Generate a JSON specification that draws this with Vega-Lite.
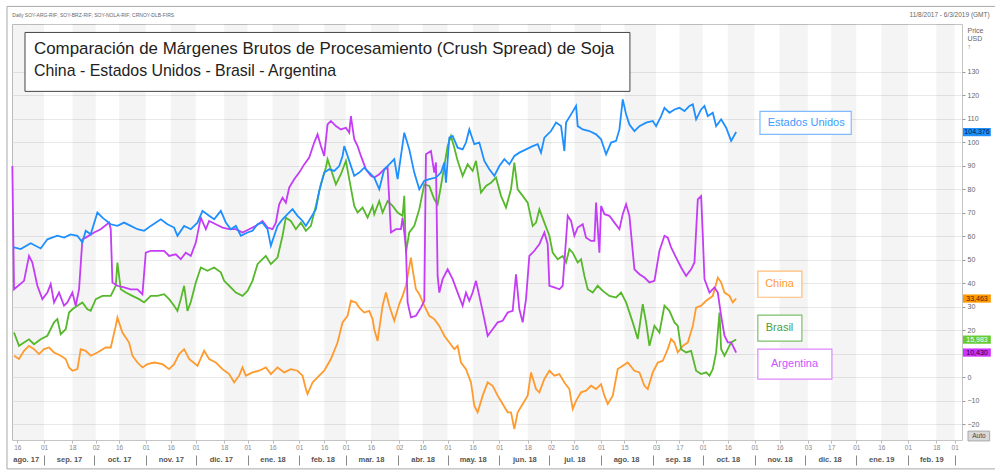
{
"$schema":"https://vega.github.io/schema/vega-lite/v6.json",
"width":950,"height":416,
"autosize":{"type":"none"},
"padding":{"left":12,"top":24,"right":33,"bottom":34},
"background":"white",
"config":{"view":{"stroke":"#c4c4c4"},"font":"Liberation Sans"},
"resolve":{"axis":{"x":"independent","y":"independent"}},
"datasets":{
"stripes":[{"a":"2017-08-12T19:00:00Z","b":"2017-09-01"},{"a":"2017-09-18","b":"2017-10-02"},{"a":"2017-10-16","b":"2017-11-01"},{"a":"2017-11-16","b":"2017-12-01"},{"a":"2017-12-18","b":"2018-01-01"},{"a":"2018-01-16","b":"2018-02-01"},{"a":"2018-02-16","b":"2018-03-01"},{"a":"2018-03-16","b":"2018-04-02"},{"a":"2018-04-16","b":"2018-05-01"},{"a":"2018-05-16","b":"2018-06-01"},{"a":"2018-06-18","b":"2018-07-02"},{"a":"2018-07-16","b":"2018-08-01"},{"a":"2018-08-15","b":"2018-09-03"},{"a":"2018-09-17","b":"2018-10-01"},{"a":"2018-10-16","b":"2018-11-01"},{"a":"2018-11-16","b":"2018-12-03"},{"a":"2018-12-17","b":"2019-01-01"},{"a":"2019-01-16","b":"2019-02-01"},{"a":"2019-02-18","b":"2019-03-01"}],
"us":[{"d":"2017-08-14","v":55.2},{"d":"2017-08-18","v":54.5},{"d":"2017-08-24","v":57.0},{"d":"2017-08-30","v":54.8},{"d":"2017-09-03","v":58.7},{"d":"2017-09-09","v":60.2},{"d":"2017-09-13","v":59.4},{"d":"2017-09-17","v":60.8},{"d":"2017-09-21","v":60.2},{"d":"2017-09-24","v":57.3},{"d":"2017-09-26","v":62.3},{"d":"2017-09-29","v":60.8},{"d":"2017-10-03","v":70.1},{"d":"2017-10-06","v":67.9},{"d":"2017-10-11","v":65.1},{"d":"2017-10-15","v":64.4},{"d":"2017-10-19","v":65.8},{"d":"2017-10-23","v":64.4},{"d":"2017-10-27","v":63.0},{"d":"2017-10-31","v":62.3},{"d":"2017-11-04","v":64.4},{"d":"2017-11-10","v":67.2},{"d":"2017-11-14","v":65.1},{"d":"2017-11-18","v":63.7},{"d":"2017-11-20","v":60.2},{"d":"2017-11-24","v":64.4},{"d":"2017-11-28","v":63.0},{"d":"2017-12-02","v":65.8},{"d":"2017-12-05","v":70.8},{"d":"2017-12-09","v":68.7},{"d":"2017-12-12","v":67.2},{"d":"2017-12-16","v":70.8},{"d":"2017-12-19","v":65.8},{"d":"2017-12-22","v":63.0},{"d":"2017-12-25","v":64.4},{"d":"2017-12-28","v":60.2},{"d":"2018-01-01","v":61.6},{"d":"2018-01-04","v":62.3},{"d":"2018-01-07","v":65.1},{"d":"2018-01-10","v":65.8},{"d":"2018-01-13","v":63.0},{"d":"2018-01-15","v":55.9},{"d":"2018-01-17","v":60.2},{"d":"2018-01-19","v":64.4},{"d":"2018-01-22","v":67.2},{"d":"2018-01-25","v":69.4},{"d":"2018-01-28","v":71.5},{"d":"2018-01-31","v":68.7},{"d":"2018-02-03","v":66.5},{"d":"2018-02-05","v":64.4},{"d":"2018-02-08","v":67.9},{"d":"2018-02-11","v":71.5},{"d":"2018-02-13","v":79.3},{"d":"2018-02-16","v":87.1},{"d":"2018-02-19","v":88.5},{"d":"2018-02-22","v":87.8},{"d":"2018-02-25","v":89.9},{"d":"2018-02-27","v":94.2},{"d":"2018-02-28","v":98.4},{"d":"2018-03-03","v":92.1},{"d":"2018-03-06","v":85.7},{"d":"2018-03-09","v":87.1},{"d":"2018-03-12","v":89.2},{"d":"2018-03-15","v":87.1},{"d":"2018-03-18","v":85.0},{"d":"2018-03-21","v":80.0},{"d":"2018-03-24","v":88.5},{"d":"2018-03-27","v":90.6},{"d":"2018-03-30","v":92.8},{"d":"2018-04-01","v":84.3},{"d":"2018-04-03","v":94.2},{"d":"2018-04-05","v":104.1},{"d":"2018-04-08","v":97.0},{"d":"2018-04-11","v":87.1},{"d":"2018-04-14","v":80.0},{"d":"2018-04-17","v":83.6},{"d":"2018-04-20","v":84.3},{"d":"2018-04-24","v":85.0},{"d":"2018-04-27","v":87.1},{"d":"2018-04-29","v":91.4},{"d":"2018-04-30","v":82.8},{"d":"2018-05-02","v":102.0},{"d":"2018-05-04","v":102.7},{"d":"2018-05-07","v":97.7},{"d":"2018-05-10","v":97.0},{"d":"2018-05-12","v":99.9},{"d":"2018-05-14","v":105.5},{"d":"2018-05-17","v":99.2},{"d":"2018-05-20","v":99.9},{"d":"2018-05-23","v":92.1},{"d":"2018-05-26","v":88.5},{"d":"2018-05-29","v":85.7},{"d":"2018-06-01","v":89.9},{"d":"2018-06-04","v":92.8},{"d":"2018-06-07","v":90.6},{"d":"2018-06-10","v":94.2},{"d":"2018-06-13","v":95.6},{"d":"2018-06-17","v":97.0},{"d":"2018-06-21","v":98.4},{"d":"2018-06-24","v":99.2},{"d":"2018-06-26","v":95.6},{"d":"2018-06-28","v":102.0},{"d":"2018-07-02","v":104.8},{"d":"2018-07-05","v":108.4},{"d":"2018-07-08","v":106.9},{"d":"2018-07-10","v":96.3},{"d":"2018-07-11","v":108.4},{"d":"2018-07-14","v":111.9},{"d":"2018-07-17","v":115.5},{"d":"2018-07-18","v":106.9},{"d":"2018-07-21","v":105.5},{"d":"2018-07-25","v":104.8},{"d":"2018-07-29","v":103.4},{"d":"2018-08-01","v":101.3},{"d":"2018-08-04","v":94.9},{"d":"2018-08-07","v":99.9},{"d":"2018-08-10","v":100.6},{"d":"2018-08-12","v":105.5},{"d":"2018-08-14","v":118.3},{"d":"2018-08-16","v":111.9},{"d":"2018-08-18","v":107.6},{"d":"2018-08-21","v":104.8},{"d":"2018-08-24","v":106.9},{"d":"2018-08-28","v":108.4},{"d":"2018-09-01","v":109.1},{"d":"2018-09-03","v":106.9},{"d":"2018-09-06","v":111.2},{"d":"2018-09-08","v":114.7},{"d":"2018-09-11","v":112.6},{"d":"2018-09-14","v":114.0},{"d":"2018-09-17","v":114.7},{"d":"2018-09-20","v":113.3},{"d":"2018-09-23","v":115.5},{"d":"2018-09-25","v":116.2},{"d":"2018-09-27","v":109.8},{"d":"2018-09-30","v":114.0},{"d":"2018-10-02","v":115.5},{"d":"2018-10-04","v":111.2},{"d":"2018-10-07","v":112.6},{"d":"2018-10-09","v":106.9},{"d":"2018-10-12","v":109.8},{"d":"2018-10-15","v":106.2},{"d":"2018-10-18","v":100.6},{"d":"2018-10-21","v":104.376}],
"ar":[{"d":"2017-08-13","v":89.9},{"d":"2017-08-14","v":37.4},{"d":"2017-08-20","v":41.0},{"d":"2017-08-23","v":51.6},{"d":"2017-08-25","v":48.8},{"d":"2017-08-28","v":38.9},{"d":"2017-08-31","v":33.2},{"d":"2017-09-03","v":36.0},{"d":"2017-09-05","v":39.6},{"d":"2017-09-07","v":31.8},{"d":"2017-09-10","v":36.0},{"d":"2017-09-13","v":30.4},{"d":"2017-09-15","v":31.8},{"d":"2017-09-18","v":36.0},{"d":"2017-09-20","v":30.4},{"d":"2017-09-22","v":37.4},{"d":"2017-09-24","v":58.7},{"d":"2017-09-26","v":59.4},{"d":"2017-10-01","v":61.6},{"d":"2017-10-05","v":63.0},{"d":"2017-10-10","v":65.8},{"d":"2017-10-11","v":63.0},{"d":"2017-10-12","v":40.3},{"d":"2017-10-15","v":38.9},{"d":"2017-10-19","v":38.2},{"d":"2017-10-23","v":37.4},{"d":"2017-10-27","v":37.4},{"d":"2017-10-30","v":35.3},{"d":"2017-11-01","v":53.0},{"d":"2017-11-04","v":53.8},{"d":"2017-11-08","v":53.8},{"d":"2017-11-12","v":53.8},{"d":"2017-11-15","v":51.6},{"d":"2017-11-19","v":52.3},{"d":"2017-11-22","v":50.2},{"d":"2017-11-25","v":53.0},{"d":"2017-11-28","v":51.6},{"d":"2017-12-01","v":57.3},{"d":"2017-12-04","v":67.9},{"d":"2017-12-07","v":63.0},{"d":"2017-12-09","v":66.5},{"d":"2017-12-13","v":65.1},{"d":"2017-12-17","v":63.7},{"d":"2017-12-21","v":63.0},{"d":"2017-12-25","v":63.0},{"d":"2017-12-29","v":61.6},{"d":"2018-01-02","v":63.0},{"d":"2018-01-06","v":64.4},{"d":"2018-01-10","v":66.5},{"d":"2018-01-13","v":63.7},{"d":"2018-01-16","v":63.0},{"d":"2018-01-18","v":65.8},{"d":"2018-01-20","v":73.6},{"d":"2018-01-22","v":76.4},{"d":"2018-01-24","v":74.3},{"d":"2018-01-26","v":80.7},{"d":"2018-01-29","v":84.3},{"d":"2018-02-01","v":87.1},{"d":"2018-02-04","v":90.6},{"d":"2018-02-07","v":93.5},{"d":"2018-02-10","v":99.9},{"d":"2018-02-12","v":103.4},{"d":"2018-02-14","v":98.4},{"d":"2018-02-16","v":94.2},{"d":"2018-02-18","v":107.6},{"d":"2018-02-20","v":109.1},{"d":"2018-02-23","v":106.9},{"d":"2018-02-26","v":105.5},{"d":"2018-03-01","v":106.2},{"d":"2018-03-03","v":104.1},{"d":"2018-03-04","v":111.2},{"d":"2018-03-06","v":101.3},{"d":"2018-03-08","v":98.4},{"d":"2018-03-10","v":94.2},{"d":"2018-03-13","v":88.5},{"d":"2018-03-16","v":85.7},{"d":"2018-03-18","v":85.0},{"d":"2018-03-21","v":86.4},{"d":"2018-03-24","v":88.5},{"d":"2018-03-26","v":89.2},{"d":"2018-03-28","v":61.6},{"d":"2018-03-31","v":63.0},{"d":"2018-04-03","v":63.0},{"d":"2018-04-04","v":67.9},{"d":"2018-04-06","v":55.2},{"d":"2018-04-07","v":31.8},{"d":"2018-04-09","v":25.4},{"d":"2018-04-12","v":26.1},{"d":"2018-04-15","v":29.6},{"d":"2018-04-17","v":32.5},{"d":"2018-04-18","v":94.9},{"d":"2018-04-21","v":96.3},{"d":"2018-04-23","v":87.1},{"d":"2018-04-24","v":91.4},{"d":"2018-04-25","v":43.1},{"d":"2018-04-26","v":36.0},{"d":"2018-04-28","v":41.7},{"d":"2018-05-01","v":45.9},{"d":"2018-05-04","v":41.7},{"d":"2018-05-07","v":36.0},{"d":"2018-05-10","v":30.4},{"d":"2018-05-12","v":36.0},{"d":"2018-05-14","v":32.5},{"d":"2018-05-16","v":36.0},{"d":"2018-05-18","v":41.0},{"d":"2018-05-20","v":34.6},{"d":"2018-05-23","v":24.7},{"d":"2018-05-25","v":17.6},{"d":"2018-05-28","v":20.4},{"d":"2018-05-31","v":23.3},{"d":"2018-06-03","v":24.0},{"d":"2018-06-06","v":27.5},{"d":"2018-06-09","v":28.2},{"d":"2018-06-11","v":43.8},{"d":"2018-06-13","v":28.9},{"d":"2018-06-15","v":23.3},{"d":"2018-06-17","v":33.2},{"d":"2018-06-19","v":51.6},{"d":"2018-06-22","v":53.8},{"d":"2018-06-25","v":56.6},{"d":"2018-06-28","v":61.6},{"d":"2018-06-30","v":56.6},{"d":"2018-07-01","v":38.9},{"d":"2018-07-04","v":38.2},{"d":"2018-07-07","v":37.4},{"d":"2018-07-09","v":38.9},{"d":"2018-07-11","v":58.7},{"d":"2018-07-12","v":68.7},{"d":"2018-07-14","v":66.5},{"d":"2018-07-16","v":60.2},{"d":"2018-07-18","v":63.7},{"d":"2018-07-21","v":65.1},{"d":"2018-07-23","v":59.4},{"d":"2018-07-26","v":58.0},{"d":"2018-07-28","v":58.0},{"d":"2018-07-29","v":74.3},{"d":"2018-07-31","v":53.0},{"d":"2018-08-01","v":72.9},{"d":"2018-08-03","v":69.4},{"d":"2018-08-06","v":68.7},{"d":"2018-08-09","v":65.8},{"d":"2018-08-12","v":63.0},{"d":"2018-08-14","v":69.4},{"d":"2018-08-16","v":73.6},{"d":"2018-08-18","v":68.7},{"d":"2018-08-21","v":45.9},{"d":"2018-08-24","v":43.8},{"d":"2018-08-27","v":42.4},{"d":"2018-08-30","v":40.3},{"d":"2018-09-02","v":41.0},{"d":"2018-09-05","v":53.8},{"d":"2018-09-08","v":60.2},{"d":"2018-09-10","v":59.4},{"d":"2018-09-12","v":55.2},{"d":"2018-09-15","v":50.9},{"d":"2018-09-18","v":46.7},{"d":"2018-09-21","v":43.1},{"d":"2018-09-24","v":45.9},{"d":"2018-09-26","v":48.8},{"d":"2018-09-28","v":75.7},{"d":"2018-09-30","v":77.1},{"d":"2018-10-01","v":60.2},{"d":"2018-10-02","v":41.7},{"d":"2018-10-05","v":36.0},{"d":"2018-10-08","v":38.2},{"d":"2018-10-10","v":36.0},{"d":"2018-10-12","v":26.1},{"d":"2018-10-14","v":17.6},{"d":"2018-10-16","v":14.8},{"d":"2018-10-18","v":14.8},{"d":"2018-10-21","v":10.43}],
"br":[{"d":"2017-08-14","v":19.0},{"d":"2017-08-17","v":13.3},{"d":"2017-08-20","v":14.7},{"d":"2017-08-23","v":16.1},{"d":"2017-08-26","v":14.0},{"d":"2017-08-30","v":16.1},{"d":"2017-09-03","v":17.6},{"d":"2017-09-07","v":23.3},{"d":"2017-09-09","v":24.7},{"d":"2017-09-11","v":18.3},{"d":"2017-09-14","v":20.4},{"d":"2017-09-16","v":27.5},{"d":"2017-09-18","v":28.9},{"d":"2017-09-21","v":30.4},{"d":"2017-09-24","v":31.8},{"d":"2017-09-27","v":28.9},{"d":"2017-09-29","v":28.2},{"d":"2017-10-02","v":33.2},{"d":"2017-10-06","v":34.6},{"d":"2017-10-11","v":34.6},{"d":"2017-10-14","v":38.9},{"d":"2017-10-15","v":48.8},{"d":"2017-10-17","v":37.4},{"d":"2017-10-20","v":36.0},{"d":"2017-10-24","v":34.6},{"d":"2017-10-28","v":33.2},{"d":"2017-10-31","v":31.8},{"d":"2017-11-04","v":34.6},{"d":"2017-11-08","v":34.6},{"d":"2017-11-12","v":35.3},{"d":"2017-11-15","v":33.2},{"d":"2017-11-18","v":30.4},{"d":"2017-11-20","v":28.2},{"d":"2017-11-22","v":33.2},{"d":"2017-11-24","v":38.9},{"d":"2017-11-26","v":28.2},{"d":"2017-11-28","v":32.0},{"d":"2017-12-01","v":40.3},{"d":"2017-12-04","v":46.7},{"d":"2017-12-08","v":45.3},{"d":"2017-12-12","v":46.7},{"d":"2017-12-16","v":44.6},{"d":"2017-12-18","v":41.0},{"d":"2017-12-21","v":38.9},{"d":"2017-12-25","v":36.0},{"d":"2017-12-29","v":34.6},{"d":"2018-01-01","v":36.7},{"d":"2018-01-04","v":41.0},{"d":"2018-01-07","v":48.1},{"d":"2018-01-10","v":50.2},{"d":"2018-01-12","v":51.6},{"d":"2018-01-15","v":48.1},{"d":"2018-01-19","v":50.9},{"d":"2018-01-22","v":60.2},{"d":"2018-01-24","v":67.9},{"d":"2018-01-27","v":66.5},{"d":"2018-01-30","v":63.0},{"d":"2018-02-02","v":65.8},{"d":"2018-02-05","v":62.3},{"d":"2018-02-08","v":64.4},{"d":"2018-02-11","v":72.9},{"d":"2018-02-14","v":82.1},{"d":"2018-02-17","v":89.2},{"d":"2018-02-18","v":92.8},{"d":"2018-02-20","v":88.5},{"d":"2018-02-23","v":82.1},{"d":"2018-02-26","v":86.4},{"d":"2018-03-01","v":92.1},{"d":"2018-03-03","v":84.3},{"d":"2018-03-06","v":72.9},{"d":"2018-03-08","v":70.1},{"d":"2018-03-11","v":72.2},{"d":"2018-03-14","v":67.9},{"d":"2018-03-17","v":72.9},{"d":"2018-03-18","v":69.4},{"d":"2018-03-21","v":75.0},{"d":"2018-03-23","v":70.1},{"d":"2018-03-26","v":75.0},{"d":"2018-03-29","v":72.9},{"d":"2018-04-01","v":70.1},{"d":"2018-04-04","v":68.7},{"d":"2018-04-05","v":77.2},{"d":"2018-04-06","v":53.0},{"d":"2018-04-08","v":61.6},{"d":"2018-04-11","v":64.4},{"d":"2018-04-14","v":71.5},{"d":"2018-04-17","v":82.1},{"d":"2018-04-20","v":81.4},{"d":"2018-04-23","v":75.7},{"d":"2018-04-25","v":73.6},{"d":"2018-04-27","v":81.4},{"d":"2018-05-01","v":98.4},{"d":"2018-05-03","v":102.7},{"d":"2018-05-05","v":97.7},{"d":"2018-05-07","v":92.1},{"d":"2018-05-10","v":85.7},{"d":"2018-05-13","v":90.6},{"d":"2018-05-16","v":87.8},{"d":"2018-05-18","v":92.1},{"d":"2018-05-21","v":78.6},{"d":"2018-05-24","v":81.4},{"d":"2018-05-27","v":82.8},{"d":"2018-05-30","v":85.0},{"d":"2018-06-02","v":77.2},{"d":"2018-06-05","v":72.2},{"d":"2018-06-08","v":80.0},{"d":"2018-06-10","v":91.4},{"d":"2018-06-12","v":80.0},{"d":"2018-06-15","v":77.2},{"d":"2018-06-18","v":74.3},{"d":"2018-06-21","v":64.4},{"d":"2018-06-23","v":65.8},{"d":"2018-06-25","v":71.5},{"d":"2018-06-28","v":65.8},{"d":"2018-07-01","v":60.2},{"d":"2018-07-03","v":53.0},{"d":"2018-07-06","v":50.2},{"d":"2018-07-09","v":51.6},{"d":"2018-07-11","v":48.8},{"d":"2018-07-13","v":54.5},{"d":"2018-07-15","v":53.0},{"d":"2018-07-18","v":48.8},{"d":"2018-07-20","v":50.2},{"d":"2018-07-22","v":43.1},{"d":"2018-07-24","v":37.4},{"d":"2018-07-27","v":36.0},{"d":"2018-07-30","v":38.9},{"d":"2018-08-02","v":36.7},{"d":"2018-08-06","v":34.6},{"d":"2018-08-10","v":33.9},{"d":"2018-08-13","v":36.0},{"d":"2018-08-16","v":31.8},{"d":"2018-08-20","v":23.3},{"d":"2018-08-23","v":16.2},{"d":"2018-08-26","v":31.1},{"d":"2018-08-28","v":23.3},{"d":"2018-08-30","v":13.3},{"d":"2018-09-02","v":21.8},{"d":"2018-09-05","v":19.0},{"d":"2018-09-08","v":30.4},{"d":"2018-09-11","v":28.2},{"d":"2018-09-14","v":23.3},{"d":"2018-09-16","v":21.8},{"d":"2018-09-18","v":11.9},{"d":"2018-09-21","v":10.5},{"d":"2018-09-24","v":11.2},{"d":"2018-09-27","v":2.7},{"d":"2018-09-30","v":1.3},{"d":"2018-10-03","v":2.0},{"d":"2018-10-05","v":0.6},{"d":"2018-10-07","v":3.4},{"d":"2018-10-09","v":10.5},{"d":"2018-10-11","v":27.5},{"d":"2018-10-12","v":11.9},{"d":"2018-10-14","v":9.1},{"d":"2018-10-16","v":11.9},{"d":"2018-10-18","v":14.8},{"d":"2018-10-21","v":15.983}],
"cn":[{"d":"2017-08-14","v":9.1},{"d":"2017-08-17","v":7.7},{"d":"2017-08-20","v":11.2},{"d":"2017-08-23","v":13.3},{"d":"2017-08-26","v":11.9},{"d":"2017-08-29","v":9.8},{"d":"2017-09-01","v":11.9},{"d":"2017-09-04","v":12.6},{"d":"2017-09-07","v":10.5},{"d":"2017-09-11","v":9.1},{"d":"2017-09-14","v":7.7},{"d":"2017-09-16","v":4.1},{"d":"2017-09-18","v":2.7},{"d":"2017-09-21","v":3.4},{"d":"2017-09-23","v":11.9},{"d":"2017-09-26","v":11.2},{"d":"2017-09-29","v":9.1},{"d":"2017-10-03","v":10.5},{"d":"2017-10-08","v":12.6},{"d":"2017-10-11","v":12.6},{"d":"2017-10-14","v":21.8},{"d":"2017-10-15","v":25.4},{"d":"2017-10-18","v":19.0},{"d":"2017-10-22","v":14.7},{"d":"2017-10-24","v":9.1},{"d":"2017-10-27","v":6.2},{"d":"2017-10-30","v":4.1},{"d":"2017-11-02","v":5.5},{"d":"2017-11-06","v":6.2},{"d":"2017-11-11","v":5.5},{"d":"2017-11-15","v":3.4},{"d":"2017-11-18","v":5.5},{"d":"2017-11-21","v":9.8},{"d":"2017-11-24","v":11.9},{"d":"2017-11-27","v":7.7},{"d":"2017-12-02","v":4.8},{"d":"2017-12-06","v":11.2},{"d":"2017-12-09","v":7.7},{"d":"2017-12-13","v":6.2},{"d":"2017-12-17","v":3.4},{"d":"2017-12-21","v":1.3},{"d":"2017-12-24","v":-2.3},{"d":"2017-12-27","v":0.6},{"d":"2017-12-29","v":4.1},{"d":"2017-12-31","v":0.6},{"d":"2018-01-04","v":2.0},{"d":"2018-01-08","v":2.7},{"d":"2018-01-12","v":4.1},{"d":"2018-01-15","v":1.3},{"d":"2018-01-19","v":4.1},{"d":"2018-01-23","v":2.0},{"d":"2018-01-27","v":3.4},{"d":"2018-01-31","v":2.7},{"d":"2018-02-03","v":0.6},{"d":"2018-02-05","v":-5.1},{"d":"2018-02-06","v":-7.2},{"d":"2018-02-09","v":-2.3},{"d":"2018-02-13","v":0.6},{"d":"2018-02-16","v":2.7},{"d":"2018-02-20","v":7.7},{"d":"2018-02-24","v":14.7},{"d":"2018-02-27","v":23.3},{"d":"2018-03-02","v":26.1},{"d":"2018-03-04","v":32.5},{"d":"2018-03-07","v":31.8},{"d":"2018-03-09","v":29.6},{"d":"2018-03-12","v":27.5},{"d":"2018-03-15","v":28.2},{"d":"2018-03-17","v":24.7},{"d":"2018-03-18","v":20.4},{"d":"2018-03-20","v":15.4},{"d":"2018-03-23","v":30.4},{"d":"2018-03-25","v":36.0},{"d":"2018-03-27","v":30.4},{"d":"2018-03-30","v":24.0},{"d":"2018-04-02","v":31.1},{"d":"2018-04-04","v":34.6},{"d":"2018-04-06","v":38.9},{"d":"2018-04-09","v":50.9},{"d":"2018-04-10","v":45.9},{"d":"2018-04-12","v":37.4},{"d":"2018-04-14","v":35.3},{"d":"2018-04-17","v":30.4},{"d":"2018-04-20","v":26.1},{"d":"2018-04-23","v":24.7},{"d":"2018-04-26","v":21.8},{"d":"2018-04-29","v":17.6},{"d":"2018-05-02","v":14.7},{"d":"2018-05-05","v":11.9},{"d":"2018-05-07","v":13.3},{"d":"2018-05-09","v":6.2},{"d":"2018-05-12","v":3.4},{"d":"2018-05-15","v":-2.3},{"d":"2018-05-17","v":-12.2},{"d":"2018-05-19","v":-15.0},{"d":"2018-05-22","v":-7.9},{"d":"2018-05-25","v":-2.3},{"d":"2018-05-28","v":-3.7},{"d":"2018-05-31","v":-7.9},{"d":"2018-06-03","v":-11.5},{"d":"2018-06-06","v":-15.0},{"d":"2018-06-08","v":-15.0},{"d":"2018-06-10","v":-22.1},{"d":"2018-06-12","v":-15.0},{"d":"2018-06-15","v":-11.5},{"d":"2018-06-18","v":-7.9},{"d":"2018-06-20","v":2.0},{"d":"2018-06-23","v":-5.1},{"d":"2018-06-25","v":-6.5},{"d":"2018-06-28","v":-0.8},{"d":"2018-07-01","v":2.7},{"d":"2018-07-04","v":0.6},{"d":"2018-07-07","v":1.3},{"d":"2018-07-10","v":-2.3},{"d":"2018-07-13","v":-5.1},{"d":"2018-07-15","v":-13.6},{"d":"2018-07-17","v":-10.1},{"d":"2018-07-20","v":-6.5},{"d":"2018-07-23","v":-5.8},{"d":"2018-07-26","v":-3.7},{"d":"2018-07-29","v":-5.1},{"d":"2018-08-01","v":-3.0},{"d":"2018-08-03","v":-7.9},{"d":"2018-08-05","v":-11.5},{"d":"2018-08-08","v":-7.9},{"d":"2018-08-11","v":3.4},{"d":"2018-08-14","v":4.8},{"d":"2018-08-17","v":6.2},{"d":"2018-08-21","v":2.7},{"d":"2018-08-24","v":2.0},{"d":"2018-08-27","v":-3.7},{"d":"2018-08-29","v":-5.1},{"d":"2018-09-01","v":2.0},{"d":"2018-09-04","v":6.2},{"d":"2018-09-07","v":6.9},{"d":"2018-09-10","v":11.9},{"d":"2018-09-12","v":16.2},{"d":"2018-09-14","v":14.7},{"d":"2018-09-16","v":10.5},{"d":"2018-09-19","v":13.3},{"d":"2018-09-22","v":14.7},{"d":"2018-09-25","v":21.8},{"d":"2018-09-27","v":29.6},{"d":"2018-09-30","v":30.4},{"d":"2018-10-03","v":32.5},{"d":"2018-10-07","v":34.6},{"d":"2018-10-10","v":42.4},{"d":"2018-10-12","v":40.3},{"d":"2018-10-14","v":36.0},{"d":"2018-10-17","v":34.6},{"d":"2018-10-19","v":31.8},{"d":"2018-10-21","v":33.463}]
},
"layer":[
{"data":{"values":[{}]},"mark":{"type":"rect","fillOpacity":0,"stroke":"#a8a8a8","strokeWidth":1},
 "encoding":{"x":{"datum":{"year":2017,"month":8,"date":9,"hours":19,"utc":true},"type":"temporal","scale":{"type":"utc","domain":[{"year":2017,"month":8,"date":12,"hours":19,"utc":true},{"year":2019,"month":3,"date":5,"hours":10,"utc":true}]},"axis":null},
 "x2":{"datum":{"year":2019,"month":3,"date":28,"utc":true}},
 "y":{"datum":157.9,"type":"quantitative","scale":{"domain":[-26.8,150.4],"nice":false,"zero":false},"axis":null},"y2":{"datum":-39.1}}},
{"data":{"name":"stripes"},"mark":{"type":"rect","fill":"#000","opacity":0.045},
 "encoding":{"x":{"field":"a","type":"temporal","scale":{"type":"utc","domain":[{"year":2017,"month":8,"date":12,"hours":19,"utc":true},{"year":2019,"month":3,"date":5,"hours":10,"utc":true}]},
  "axis":{"orient":"bottom","title":null,"format":"%d","grid":false,"domain":false,"tickSize":3,"tickColor":"#bbb","labelFontSize":6.5,"labelColor":"#888","labelPadding":1,"labelOverlap":false,"labelFlush":false,"labelBound":false,
  "values":[{"year":2017,"month":8,"date":16,"utc":true},{"year":2017,"month":9,"date":1,"utc":true},{"year":2017,"month":9,"date":18,"utc":true},{"year":2017,"month":10,"date":2,"utc":true},{"year":2017,"month":10,"date":16,"utc":true},{"year":2017,"month":11,"date":1,"utc":true},{"year":2017,"month":11,"date":16,"utc":true},{"year":2017,"month":12,"date":1,"utc":true},{"year":2017,"month":12,"date":18,"utc":true},{"year":2018,"month":1,"date":1,"utc":true},{"year":2018,"month":1,"date":16,"utc":true},{"year":2018,"month":2,"date":1,"utc":true},{"year":2018,"month":2,"date":16,"utc":true},{"year":2018,"month":3,"date":1,"utc":true},{"year":2018,"month":3,"date":16,"utc":true},{"year":2018,"month":4,"date":2,"utc":true},{"year":2018,"month":4,"date":16,"utc":true},{"year":2018,"month":5,"date":1,"utc":true},{"year":2018,"month":5,"date":16,"utc":true},{"year":2018,"month":6,"date":1,"utc":true},{"year":2018,"month":6,"date":18,"utc":true},{"year":2018,"month":7,"date":2,"utc":true},{"year":2018,"month":7,"date":16,"utc":true},{"year":2018,"month":8,"date":1,"utc":true},{"year":2018,"month":8,"date":15,"utc":true},{"year":2018,"month":9,"date":3,"utc":true},{"year":2018,"month":9,"date":17,"utc":true},{"year":2018,"month":10,"date":1,"utc":true},{"year":2018,"month":10,"date":16,"utc":true},{"year":2018,"month":11,"date":1,"utc":true},{"year":2018,"month":11,"date":16,"utc":true},{"year":2018,"month":12,"date":3,"utc":true},{"year":2018,"month":12,"date":17,"utc":true},{"year":2019,"month":1,"date":1,"utc":true},{"year":2019,"month":1,"date":16,"utc":true},{"year":2019,"month":2,"date":1,"utc":true},{"year":2019,"month":2,"date":18,"utc":true},{"year":2019,"month":3,"date":1,"utc":true}]}},
 "x2":{"field":"b"}}},
{"data":{"name":"stripes"},"mark":{"type":"rect","opacity":0},
 "encoding":{"x":{"field":"a","type":"temporal","scale":{"type":"utc","domain":[{"year":2017,"month":8,"date":12,"hours":19,"utc":true},{"year":2019,"month":3,"date":5,"hours":10,"utc":true}]},
  "axis":{"orient":"bottom","title":null,"grid":false,"domain":false,"ticks":false,"labelPadding":15,"labelFontSize":7.5,"labelFontWeight":"bold","labelColor":"#555","labelOverlap":false,"labelFlush":false,"labelBound":false,
  "labelExpr":"['ene.','feb.','mar.','abr.','may.','jun.','jul.','ago.','sep.','oct.','nov.','dic.'][utcmonth(datum.value)] + ' ' + utcFormat(datum.value, '%y')",
  "values":[{"year":2017,"month":8,"date":21,"utc":true},{"year":2017,"month":9,"date":16,"utc":true},{"year":2017,"month":10,"date":16,"utc":true},{"year":2017,"month":11,"date":16,"utc":true},{"year":2017,"month":12,"date":16,"utc":true},{"year":2018,"month":1,"date":16,"utc":true},{"year":2018,"month":2,"date":15,"utc":true},{"year":2018,"month":3,"date":16,"utc":true},{"year":2018,"month":4,"date":16,"utc":true},{"year":2018,"month":5,"date":16,"utc":true},{"year":2018,"month":6,"date":16,"utc":true},{"year":2018,"month":7,"date":16,"utc":true},{"year":2018,"month":8,"date":16,"utc":true},{"year":2018,"month":9,"date":16,"utc":true},{"year":2018,"month":10,"date":16,"utc":true},{"year":2018,"month":11,"date":16,"utc":true},{"year":2018,"month":12,"date":16,"utc":true},{"year":2019,"month":1,"date":16,"utc":true},{"year":2019,"month":2,"date":15,"utc":true}]}},
 "x2":{"field":"b"}}},
{"data":{"name":"stripes"},"mark":{"type":"rect","opacity":0},
 "encoding":{"x":{"field":"a","type":"temporal","scale":{"type":"utc","domain":[{"year":2017,"month":8,"date":12,"hours":19,"utc":true},{"year":2019,"month":3,"date":5,"hours":10,"utc":true}]},
  "axis":{"orient":"bottom","title":null,"grid":false,"domain":false,"labels":false,"ticks":true,"tickSize":10,"tickColor":"#888","offset":15,
  "values":[{"year":2017,"month":9,"date":1,"utc":true},{"year":2017,"month":10,"date":1,"utc":true},{"year":2017,"month":11,"date":1,"utc":true},{"year":2017,"month":12,"date":1,"utc":true},{"year":2018,"month":1,"date":1,"utc":true},{"year":2018,"month":2,"date":1,"utc":true},{"year":2018,"month":3,"date":1,"utc":true},{"year":2018,"month":4,"date":1,"utc":true},{"year":2018,"month":5,"date":1,"utc":true},{"year":2018,"month":6,"date":1,"utc":true},{"year":2018,"month":7,"date":1,"utc":true},{"year":2018,"month":8,"date":1,"utc":true},{"year":2018,"month":9,"date":1,"utc":true},{"year":2018,"month":10,"date":1,"utc":true},{"year":2018,"month":11,"date":1,"utc":true},{"year":2018,"month":12,"date":1,"utc":true},{"year":2019,"month":1,"date":1,"utc":true},{"year":2019,"month":2,"date":1,"utc":true},{"year":2019,"month":3,"date":1,"utc":true}]}},
 "x2":{"field":"b"}}},
{"data":{"name":"cn"},"mark":{"type":"line","color":"#ff9a2e","strokeWidth":1.8},
 "encoding":{"x":{"field":"d","type":"temporal","scale":{"type":"utc","domain":[{"year":2017,"month":8,"date":12,"hours":19,"utc":true},{"year":2019,"month":3,"date":5,"hours":10,"utc":true}]},"axis":null},
 "y":{"field":"v","type":"quantitative","scale":{"domain":[-26.8,150.4],"nice":false,"zero":false},
  "axis":{"orient":"right","values":[-20,-10,0,10,20,30,40,50,60,70,80,90,100,110,120,130],"labelExpr":"datum.value == 10 ? '' : datum.label","grid":true,"gridColor":"#e9e9e9","domain":false,"tickSize":3,"tickColor":"#999","labelFontSize":7,"labelColor":"#666","labelPadding":2,
  "title":["Price","USD","↑"],"titleAngle":0,"titleAlign":"left","titleBaseline":"top","titleX":5,"titleY":2,"titleFontSize":7,"titleFontWeight":"normal","titleColor":"#666","titleLineHeight":8}}}},
{"data":{"name":"br"},"mark":{"type":"line","color":"#56b82a","strokeWidth":1.8},
 "encoding":{"x":{"field":"d","type":"temporal","scale":{"type":"utc","domain":[{"year":2017,"month":8,"date":12,"hours":19,"utc":true},{"year":2019,"month":3,"date":5,"hours":10,"utc":true}]},"axis":null},
 "y":{"field":"v","type":"quantitative","axis":null}}},
{"data":{"name":"ar"},"mark":{"type":"line","color":"#c43cf5","strokeWidth":1.8},
 "encoding":{"x":{"field":"d","type":"temporal","scale":{"type":"utc","domain":[{"year":2017,"month":8,"date":12,"hours":19,"utc":true},{"year":2019,"month":3,"date":5,"hours":10,"utc":true}]},"axis":null},
 "y":{"field":"v","type":"quantitative","axis":null}}},
{"data":{"name":"us"},"mark":{"type":"line","color":"#1e8fff","strokeWidth":1.8},
 "encoding":{"x":{"field":"d","type":"temporal","scale":{"type":"utc","domain":[{"year":2017,"month":8,"date":12,"hours":19,"utc":true},{"year":2019,"month":3,"date":5,"hours":10,"utc":true}]},"axis":null},
 "y":{"field":"v","type":"quantitative","axis":null}}},
{"data":{"values":[{}]},"mark":{"type":"rect","fill":"white","stroke":"#80bbff","strokeWidth":1.2},
 "encoding":{"x":{"datum":{"year":2018,"month":11,"date":4,"hours":7,"utc":true},"type":"temporal","axis":null},"x2":{"datum":{"year":2018,"month":12,"date":29,"utc":true}},
 "y":{"datum":113.2,"type":"quantitative","axis":null},"y2":{"datum":103.4}}},
{"data":{"values":[{}]},"mark":{"type":"text","text":"Estados Unidos","fontSize":11,"color":"#3d9bff","align":"center","baseline":"middle"},
 "encoding":{"x":{"datum":{"year":2018,"month":12,"date":2,"utc":true},"type":"temporal","axis":null},"y":{"datum":108.2,"type":"quantitative","axis":null}}},
{"data":{"values":[{}]},"mark":{"type":"rect","fill":"white","stroke":"#ffbb77","strokeWidth":1.2},
 "encoding":{"x":{"datum":{"year":2018,"month":11,"date":3,"utc":true},"type":"temporal","axis":null},"x2":{"datum":{"year":2018,"month":11,"date":29,"hours":10,"utc":true}},
 "y":{"datum":45.1,"type":"quantitative","axis":null},"y2":{"datum":34.0}}},
{"data":{"values":[{}]},"mark":{"type":"text","text":"China","fontSize":11,"color":"#ff9a33","align":"center","baseline":"middle"},
 "encoding":{"x":{"datum":{"year":2018,"month":11,"date":16,"utc":true},"type":"temporal","axis":null},"y":{"datum":39.6,"type":"quantitative","axis":null}}},
{"data":{"values":[{}]},"mark":{"type":"rect","fill":"white","stroke":"#7cc06a","strokeWidth":1.2},
 "encoding":{"x":{"datum":{"year":2018,"month":11,"date":3,"utc":true},"type":"temporal","axis":null},"x2":{"datum":{"year":2018,"month":11,"date":29,"hours":10,"utc":true}},
 "y":{"datum":26.4,"type":"quantitative","axis":null},"y2":{"datum":15.3}}},
{"data":{"values":[{}]},"mark":{"type":"text","text":"Brasil","fontSize":11,"color":"#4a9e3a","align":"center","baseline":"middle"},
 "encoding":{"x":{"datum":{"year":2018,"month":11,"date":16,"utc":true},"type":"temporal","axis":null},"y":{"datum":20.9,"type":"quantitative","axis":null}}},
{"data":{"values":[{}]},"mark":{"type":"rect","fill":"white","stroke":"#dd88ff","strokeWidth":1.2},
 "encoding":{"x":{"datum":{"year":2018,"month":11,"date":3,"utc":true},"type":"temporal","axis":null},"x2":{"datum":{"year":2018,"month":12,"date":17,"hours":10,"utc":true}},
 "y":{"datum":11.9,"type":"quantitative","axis":null},"y2":{"datum":-0.9}}},
{"data":{"values":[{}]},"mark":{"type":"text","text":"Argentina","fontSize":11,"color":"#cc55ff","align":"center","baseline":"middle"},
 "encoding":{"x":{"datum":{"year":2018,"month":11,"date":25,"utc":true},"type":"temporal","axis":null},"y":{"datum":5.5,"type":"quantitative","axis":null}}},
{"data":{"values":[{}]},"mark":{"type":"rect","fill":"#1e8fff"},
 "encoding":{"x":{"datum":{"year":2019,"month":3,"date":6,"utc":true},"type":"temporal","axis":null},"x2":{"datum":{"year":2019,"month":3,"date":22,"hours":17,"utc":true}},
 "y":{"datum":106.1,"type":"quantitative","axis":null},"y2":{"datum":102.6}}},
{"data":{"values":[{}]},"mark":{"type":"text","text":"104,376","fontSize":7,"color":"#001a4d","align":"center","baseline":"middle"},
 "encoding":{"x":{"datum":{"year":2019,"month":3,"date":14,"hours":10,"utc":true},"type":"temporal","axis":null},"y":{"datum":104.376,"type":"quantitative","axis":null}}},
{"data":{"values":[{}]},"mark":{"type":"rect","fill":"#ff9900"},
 "encoding":{"x":{"datum":{"year":2019,"month":3,"date":6,"utc":true},"type":"temporal","axis":null},"x2":{"datum":{"year":2019,"month":3,"date":22,"hours":17,"utc":true}},
 "y":{"datum":35.2,"type":"quantitative","axis":null},"y2":{"datum":31.7}}},
{"data":{"values":[{}]},"mark":{"type":"text","text":"33,463","fontSize":7,"color":"#4d2600","align":"center","baseline":"middle"},
 "encoding":{"x":{"datum":{"year":2019,"month":3,"date":14,"hours":10,"utc":true},"type":"temporal","axis":null},"y":{"datum":33.463,"type":"quantitative","axis":null}}},
{"data":{"values":[{}]},"mark":{"type":"rect","fill":"#66cc33"},
 "encoding":{"x":{"datum":{"year":2019,"month":3,"date":6,"utc":true},"type":"temporal","axis":null},"x2":{"datum":{"year":2019,"month":3,"date":22,"hours":17,"utc":true}},
 "y":{"datum":17.7,"type":"quantitative","axis":null},"y2":{"datum":14.2}}},
{"data":{"values":[{}]},"mark":{"type":"text","text":"15,983","fontSize":7,"color":"#ffffff","align":"center","baseline":"middle"},
 "encoding":{"x":{"datum":{"year":2019,"month":3,"date":14,"hours":10,"utc":true},"type":"temporal","axis":null},"y":{"datum":15.983,"type":"quantitative","axis":null}}},
{"data":{"values":[{}]},"mark":{"type":"rect","fill":"#cc33ff"},
 "encoding":{"x":{"datum":{"year":2019,"month":3,"date":6,"utc":true},"type":"temporal","axis":null},"x2":{"datum":{"year":2019,"month":3,"date":22,"hours":17,"utc":true}},
 "y":{"datum":12.2,"type":"quantitative","axis":null},"y2":{"datum":8.7}}},
{"data":{"values":[{}]},"mark":{"type":"text","text":"10,430","fontSize":7,"color":"#1a0033","align":"center","baseline":"middle"},
 "encoding":{"x":{"datum":{"year":2019,"month":3,"date":14,"hours":10,"utc":true},"type":"temporal","axis":null},"y":{"datum":10.43,"type":"quantitative","axis":null}}},
{"data":{"values":[{}]},"mark":{"type":"rect","fill":"white","stroke":"#444","strokeWidth":1},
 "encoding":{"x":{"datum":{"year":2017,"month":8,"date":20,"hours":14,"utc":true},"type":"temporal","axis":null},"x2":{"datum":{"year":2018,"month":8,"date":18,"hours":7,"utc":true}},
 "y":{"datum":146.8,"type":"quantitative","axis":null},"y2":{"datum":121.7}}},
{"data":{"values":[{}]},"mark":{"type":"text","text":"Comparación de Márgenes Brutos de Procesamiento (Crush Spread) de Soja","fontSize":16.9,"color":"#222","align":"left","baseline":"middle"},
 "encoding":{"x":{"datum":{"year":2017,"month":8,"date":26,"utc":true},"type":"temporal","axis":null},"y":{"datum":139.6,"type":"quantitative","axis":null}}},
{"data":{"values":[{}]},"mark":{"type":"text","text":"China - Estados Unidos - Brasil - Argentina","fontSize":15.9,"color":"#222","align":"left","baseline":"middle"},
 "encoding":{"x":{"datum":{"year":2017,"month":8,"date":26,"utc":true},"type":"temporal","axis":null},"y":{"datum":130.2,"type":"quantitative","axis":null}}},
{"data":{"values":[{}]},"mark":{"type":"text","text":"Daily SOY-ARG-RIF; SOY-BRZ-RIF; SOY-NOLA-RIF; CRNOY-DLB-FIRS","fontSize":5,"color":"#666","align":"left","baseline":"middle"},
 "encoding":{"x":{"datum":{"year":2017,"month":8,"date":13,"utc":true},"type":"temporal","axis":null},"y":{"datum":154.2,"type":"quantitative","axis":null}}},
{"data":{"values":[{}]},"mark":{"type":"text","text":"11/8/2017 - 6/3/2019 (GMT)","fontSize":6.5,"color":"#666","align":"right","baseline":"middle"},
 "encoding":{"x":{"datum":{"year":2019,"month":3,"date":22,"utc":true},"type":"temporal","axis":null},"y":{"datum":154.2,"type":"quantitative","axis":null}}},
{"data":{"values":[{}]},"mark":{"type":"rect","fill":"#d9d9d9","stroke":"#999","strokeWidth":0.8},
 "encoding":{"x":{"datum":{"year":2019,"month":3,"date":9,"utc":true},"type":"temporal","axis":null},"x2":{"datum":{"year":2019,"month":3,"date":22,"utc":true}},
 "y":{"datum":-23.0,"type":"quantitative","axis":null},"y2":{"datum":-27.2}}},
{"data":{"values":[{}]},"mark":{"type":"text","text":"Auto","fontSize":6.5,"color":"#444","align":"center","baseline":"middle"},
 "encoding":{"x":{"datum":{"year":2019,"month":3,"date":15,"hours":14,"utc":true},"type":"temporal","axis":null},"y":{"datum":-25.1,"type":"quantitative","axis":null}}}
]
}
